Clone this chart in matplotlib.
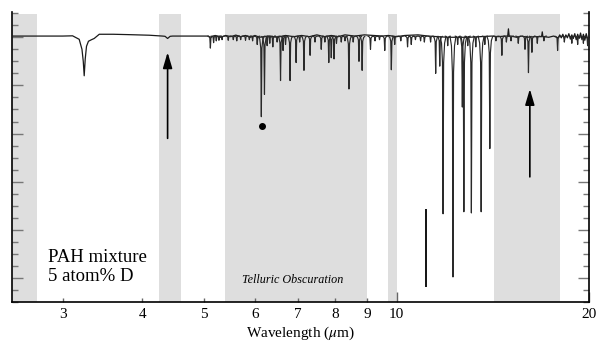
import numpy as np
import matplotlib
matplotlib.use('Agg')
import matplotlib.pyplot as plt
from matplotlib.ticker import FixedLocator, FixedFormatter, MultipleLocator, NullFormatter
from matplotlib.collections import LineCollection

plt.rcParams['font.family'] = ['Liberation Serif', 'DejaVu Serif']
plt.rcParams['mathtext.fontset'] = 'stix'

# ---- data ----
cont_wl = [2.50, 3.00, 3.11, 3.185, 3.217, 3.232, 3.243, 3.255, 3.27, 3.293,
           3.33, 3.362, 3.424, 3.60, 3.80, 4.10, 4.30, 4.34, 4.38, 4.42,
           4.46, 4.80, 5.075, 5.10, 5.20, 5.30, 5.40, 5.50, 5.60, 5.70,
           5.80, 5.90, 6.00, 6.10, 6.30, 6.50, 6.70, 6.90, 7.10, 7.30,
           7.50, 7.70, 7.90, 8.10, 8.30, 8.60, 8.90, 9.20, 9.50, 9.70,
           10.00, 10.30, 10.80, 11.20, 11.60, 12.00, 12.50, 13.00, 13.50, 14.10,
           14.40, 14.80, 14.92, 14.96, 15.00, 15.10, 15.40, 15.70, 16.00, 16.50,
           16.86, 16.90, 16.94, 17.00, 17.30, 17.60, 17.90, 18.00, 18.10, 18.20,
           18.30, 18.40, 18.50, 18.60, 18.70, 18.80, 18.90, 19.00, 19.10, 19.20,
           19.30, 19.40, 19.50, 19.60, 19.70, 19.80, 19.90, 20.00]
cont_fl = [22.10, 22.10, 22.12, 21.83, 21.00, 20.00, 18.80, 20.20, 21.25, 21.67,
           21.80, 21.90, 22.25, 22.25, 22.22, 22.17, 22.10, 22.08, 21.90, 22.08,
           22.10, 22.10, 22.10, 22.00, 22.15, 22.00, 22.15, 22.05, 22.18, 22.05,
           22.15, 22.00, 22.15, 22.00, 22.10, 22.00, 22.15, 22.05, 22.15, 22.05,
           22.20, 22.05, 22.15, 22.05, 22.20, 22.10, 22.20, 22.15, 22.10, 22.15,
           22.05, 22.15, 22.20, 22.10, 22.05, 22.00, 22.00, 22.00, 22.05, 22.10,
           22.05, 22.10, 22.10, 22.70, 22.10, 22.10, 22.00, 22.10, 22.00, 22.05,
           22.05, 22.45, 22.05, 22.05, 22.00, 22.10, 21.95, 22.20, 21.95, 22.25,
           21.90, 22.20, 21.95, 22.30, 21.85, 22.20, 21.90, 22.30, 21.80, 22.25,
           21.90, 22.35, 21.80, 22.25, 21.75, 22.30, 21.85, 22.00]

line_wl = [5.11, 5.17, 5.22, 5.27, 5.33, 5.45, 5.55, 5.62, 5.70, 5.80,
           5.88, 5.95, 6.05, 6.14, 6.21, 6.27, 6.33, 6.40, 6.50, 6.58,
           6.64, 6.70, 6.81, 6.96, 7.05, 7.16, 7.32, 7.45, 7.62, 7.72,
           7.83, 7.90, 7.98, 8.05, 8.19, 8.30, 8.42, 8.55, 8.73, 8.83,
           9.10, 9.25, 9.40, 9.58, 9.81, 9.93, 10.15, 10.40, 10.54, 10.70,
           10.90, 11.05, 11.30, 11.51, 11.68, 11.82, 12.02, 12.25, 12.46, 12.67,
           12.74, 12.92, 13.09, 13.30, 13.56, 13.74, 13.99, 14.30, 14.61, 14.85,
           15.10, 15.50, 15.88, 16.08, 16.28, 16.60, 17.00, 17.86, 18.30, 18.80,
           19.20, 19.60, 19.90]
line_min = [21.1, 21.55, 21.7, 21.75, 21.8, 21.75, 21.8, 21.7, 21.8, 21.75,
            21.8, 21.7, 21.4, 15.4, 17.25, 21.3, 21.5, 21.2, 21.6, 18.4,
            20.9, 21.4, 18.4, 19.9, 21.6, 19.25, 20.5, 21.6, 21.0, 21.6,
            19.9, 20.3, 20.2, 21.5, 21.6, 21.7, 17.7, 21.6, 20.0, 19.25,
            21.0, 21.7, 21.8, 20.9, 19.3, 21.4, 21.7, 21.2, 21.4, 21.8,
            21.7, 21.6, 21.6, 19.0, 19.6, 7.33, 21.3, 2.08, 21.4, 16.2,
            7.5, 21.3, 7.4, 21.2, 7.5, 21.4, 12.75, 21.7, 20.5, 21.6,
            21.7, 21.5, 21.0, 19.06, 20.75, 21.5, 21.7, 20.9, 21.6, 21.5,
            21.4, 21.5, 21.3]

BASELINE = 22.1
band_lo = [2.50, 4.25, 5.39, 9.70, 14.2]
band_hi = [2.74, 4.60, 8.97, 10.00, 18.0]

arrow_wl = [4.38, 16.16]
arrow_tail = [13.6, 10.4]
arrow_tip = [20.75, 17.7]

dot_wl, dot_y = 6.16, 14.6
mark_wl, mark_lo, mark_hi = 11.13, 1.25, 7.75

xt_major = [10, 20]
xt_minor = [3, 4, 5, 6, 7, 8, 9]

# line profile shape (style): offsets in log10(wavelength) and fractional depth
PROFILE_DEX = np.array([-0.0047, -0.0024, -0.0009, 0.0, 0.0009, 0.0024, 0.0047])
PROFILE_FRAC = np.array([0.0, 0.04, 0.15, 1.0, 0.15, 0.04, 0.0])

# ---- figure ----
fig = plt.figure(figsize=(5.98, 3.42), dpi=100)
ax = fig.add_axes([12/598, 40/342, 577/598, 290/342])
ax.set_xscale('log')
ax.set_xlim(2.5, 20)
ax.set_ylim(0, 24.1)

for lo, hi in zip(band_lo, band_hi):
    ax.axvspan(lo, hi, ymin=0, ymax=0.992, color='#dedede', lw=0, zorder=0)

ax.plot(cont_wl, cont_fl, color='#1a1a1a', lw=0.9, zorder=3)

segs = []
for c, m in zip(line_wl, line_min):
    xs = c * 10 ** PROFILE_DEX
    ys = BASELINE - PROFILE_FRAC * (BASELINE - m)
    segs.append(np.column_stack([xs, ys]))
ax.add_collection(LineCollection(segs, colors='#2a2a2a', linewidths=0.85, zorder=3))

ax.vlines(mark_wl, mark_lo, mark_hi, color='k', lw=1.3, zorder=4)
ax.plot([dot_wl], [dot_y], 'o', color='k', ms=4, zorder=4)

for w, t0, t1 in zip(arrow_wl, arrow_tail, arrow_tip):
    ax.annotate('', xy=(w, t1), xytext=(w, t0),
                arrowprops=dict(arrowstyle='-|>,head_length=0.95,head_width=0.28',
                                color='k', lw=1.2, shrinkA=0, shrinkB=0,
                                mutation_scale=10), zorder=4)

ax.text(2.85, 3.33, 'PAH mixture', fontsize=13.5, zorder=5)
ax.text(2.85, 1.75, '5 atom% D', fontsize=13.5, zorder=5)
ax.text(6.87, 1.6, 'Telluric Obscuration', style='italic', fontsize=8.7,
        ha='center', zorder=5)

ax.set_xlabel(r'Wavelength ($\mu$m)', fontsize=11, labelpad=3)

ax.xaxis.set_major_locator(FixedLocator(xt_major))
ax.xaxis.set_major_formatter(FixedFormatter([str(v) for v in xt_major]))
ax.xaxis.set_minor_locator(FixedLocator(xt_minor))
ax.xaxis.set_minor_formatter(FixedFormatter([str(v) for v in xt_minor]))
ax.tick_params(axis='x', which='both', direction='in', labelsize=11, top=False,
               color='#666666', pad=4)
ax.tick_params(axis='x', which='major', length=7, width=1)
ax.tick_params(axis='x', which='minor', length=3, width=1)

ax.yaxis.set_major_locator(FixedLocator([2, 6, 10, 14, 18, 22]))
ax.yaxis.set_minor_locator(MultipleLocator(1))
ax.yaxis.set_major_formatter(NullFormatter())
ax.yaxis.set_minor_formatter(NullFormatter())
ax.tick_params(axis='y', which='both', direction='in', left=True, right=True,
               labelleft=False, labelright=False, color='#777777')
ax.tick_params(axis='y', which='major', length=8, width=1)
ax.tick_params(axis='y', which='minor', length=4, width=1)

ax.spines['top'].set_visible(False)
for s in ['left', 'right', 'bottom']:
    ax.spines[s].set_linewidth(1.2)

fig.savefig('out.png', dpi=100)
